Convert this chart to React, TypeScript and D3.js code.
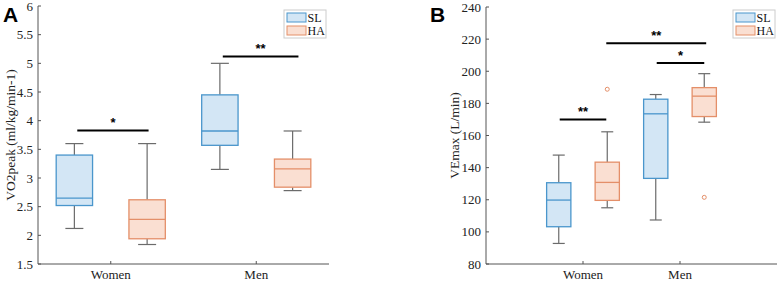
import React from "react";
import * as d3 from "d3";

const categories = ["Women", "Men"];
const seriesNames = ["SL", "HA"];

// [min, q1, median, q3, max]
const vo2SL = [
  [2.12, 2.52, 2.65, 3.4, 3.6],
  [3.15, 3.57, 3.82, 4.45, 5.0],
];
const vo2HA = [
  [1.84, 1.94, 2.28, 2.62, 3.6],
  [2.78, 2.84, 3.16, 3.33, 3.82],
];
const veSL = [
  [92.8, 103.2, 119.8, 130.6, 147.8],
  [107.4, 133.3, 173.5, 182.6, 185.5],
];
const veHA = [
  [115, 119.6, 130.8, 143.4, 162.3],
  [168.3, 171.8, 184.5, 189.8, 198.5],
];
const veOutliersHA = [[188.8], [121.5]];
const vo2Ticks = [1.5, 2, 2.5, 3, 3.5, 4, 4.5, 5, 5.5, 6];
const veTicks = [80, 100, 120, 140, 160, 180, 200, 220, 240];

// significance: [x1, x2, y, label]  (x in category units)
const vo2Sig: [number, number, number, string][] = [
  [0.77, 1.26, 3.83, "*"],
  [1.77, 2.29, 5.12, "**"],
];
const veSig: [number, number, number, string][] = [
  [0.76, 1.24, 170, "**"],
  [1.24, 2.27, 217.4, "**"],
  [1.76, 2.25, 205.2, "*"],
];

const FILL = ["#d3e6f5", "#fadfd2"];
const STROKE = ["#4a96cc", "#e48f69"];
const WHISK = "#6b6b6b";
const AXIS = "#555";
const SERIF = "'Liberation Serif', 'Times New Roman', serif";

type PanelProps = {
  letter: string;
  letterX: number;
  xRange: [number, number];
  xDomain: [number, number];
  yDomain: [number, number];
  yRange: [number, number];
  ticks: number[];
  data: number[][][];
  outliers?: number[][];
  sig: [number, number, number, string][];
  yTitle: string;
  yTitleX: number;
  legendX: number;
  capW: number;
};

function Panel(p: PanelProps) {
  const x = d3.scaleLinear().domain(p.xDomain).range(p.xRange);
  const y = d3.scaleLinear().domain(p.yDomain).range(p.yRange);
  const [x0, x1] = p.xRange;
  const yb = p.yRange[0];
  const yt = p.yRange[1];
  const off = 0.25;
  const bw = x(0.25) - x(0);
  return (
    <g>
      <text x={p.letterX} y={22} fontFamily="Arial, 'Liberation Sans', sans-serif" fontWeight="bold" fontSize={21}>
        {p.letter}
      </text>
      {/* axes */}
      <line x1={x0} x2={x0} y1={yt} y2={yb} stroke={AXIS} strokeWidth={1} />
      <line x1={x0} x2={x1} y1={yb} y2={yb} stroke={AXIS} strokeWidth={1} />
      {p.ticks.map((t) => (
        <g key={t}>
          <line x1={x0} x2={x0 + 3} y1={y(t)} y2={y(t)} stroke={AXIS} />
          <text x={x0 - 5} y={y(t) + 4.5} textAnchor="end" fontFamily={SERIF} fontSize={13} fill="#222">
            {String(t)}
          </text>
        </g>
      ))}
      {categories.map((c, i) => (
        <g key={c}>
          <line x1={x(i + 1)} x2={x(i + 1)} y1={yb} y2={yb - 3} stroke={AXIS} />
          <text x={x(i + 1)} y={yb + 15} textAnchor="middle" fontFamily={SERIF} fontSize={13} fill="#222">
            {c}
          </text>
        </g>
      ))}
      <text
        transform={`translate(${p.yTitleX},${(yt + yb) / 2}) rotate(-90)`}
        textAnchor="middle"
        fontFamily={SERIF}
        fontSize={13.5}
        fill="#222"
      >
        {p.yTitle}
      </text>
      {/* boxes */}
      {p.data.map((series, s) =>
        series.map((d, i) => {
          const cx = x(i + 1 + (s === 0 ? -off : off));
          const [mn, q1, md, q3, mx] = d;
          return (
            <g key={`${s}-${i}`}>
              <line x1={cx} x2={cx} y1={y(mx)} y2={y(q3)} stroke={WHISK} strokeWidth={1.2} />
              <line x1={cx} x2={cx} y1={y(q1)} y2={y(mn)} stroke={WHISK} strokeWidth={1.2} />
              <line x1={cx - p.capW / 2} x2={cx + p.capW / 2} y1={y(mx)} y2={y(mx)} stroke={WHISK} strokeWidth={1.2} />
              <line x1={cx - p.capW / 2} x2={cx + p.capW / 2} y1={y(mn)} y2={y(mn)} stroke={WHISK} strokeWidth={1.2} />
              <rect
                x={cx - bw / 2}
                y={y(q3)}
                width={bw}
                height={y(q1) - y(q3)}
                fill={FILL[s]}
                stroke={STROKE[s]}
                strokeWidth={1.3}
              />
              <line x1={cx - bw / 2} x2={cx + bw / 2} y1={y(md)} y2={y(md)} stroke={STROKE[s]} strokeWidth={1.3} />
            </g>
          );
        })
      )}
      {p.outliers &&
        p.outliers.map((arr, i) =>
          arr.map((v, k) => (
            <circle key={`o${i}-${k}`} cx={x(i + 1 + off)} cy={y(v)} r={2} fill="none" stroke={STROKE[1]} strokeWidth={1} />
          ))
        )}
      {/* significance */}
      {p.sig.map(([a, b, v, lab], k) => (
        <g key={`s${k}`}>
          <line x1={x(a)} x2={x(b)} y1={y(v)} y2={y(v)} stroke="#000" strokeWidth={2} />
          <text x={(x(a) + x(b)) / 2} y={y(v) - 3} textAnchor="middle" fontFamily="Arial, sans-serif" fontWeight="bold" fontSize={13}>
            {lab}
          </text>
        </g>
      ))}
      {/* legend */}
      <g transform={`translate(${p.legendX},10)`}>
        <rect x={0} y={0} width={42} height={28} fill="#fff" stroke="#ccc" strokeWidth={1} />
        {seriesNames.map((n, s) => (
          <g key={n}>
            <rect x={3} y={3 + s * 13} width={19} height={9} fill={FILL[s]} stroke={STROKE[s]} strokeWidth={1} />
            <text x={23.5} y={11.5 + s * 13} fontFamily={SERIF} fontSize={12} fill="#111">
              {n}
            </text>
          </g>
        ))}
      </g>
    </g>
  );
}

export default function App() {
  return (
    <svg width={782} height={282} style={{ position: "absolute", left: 0, top: 0, background: "#fff" }}>
      <Panel
        letter="A"
        letterX={3}
        xRange={[38, 329]}
        xDomain={[0.5, 2.5]}
        yDomain={[1.5, 6]}
        yRange={[264, 6]}
        ticks={vo2Ticks}
        data={[vo2SL, vo2HA]}
        sig={vo2Sig}
        yTitle="VO2peak (ml/kg/min-1)"
        yTitleX={15}
        legendX={284}
        capW={18}
      />
      <Panel
        letter="B"
        letterX={430}
        xRange={[486, 777]}
        xDomain={[0, 3]}
        yDomain={[80, 240]}
        yRange={[264, 7]}
        ticks={veTicks}
        data={[veSL, veHA]}
        outliers={veOutliersHA}
        sig={veSig}
        yTitle="VEmax (L/min)"
        yTitleX={459}
        legendX={733}
        capW={12}
      />
    </svg>
  );
}
